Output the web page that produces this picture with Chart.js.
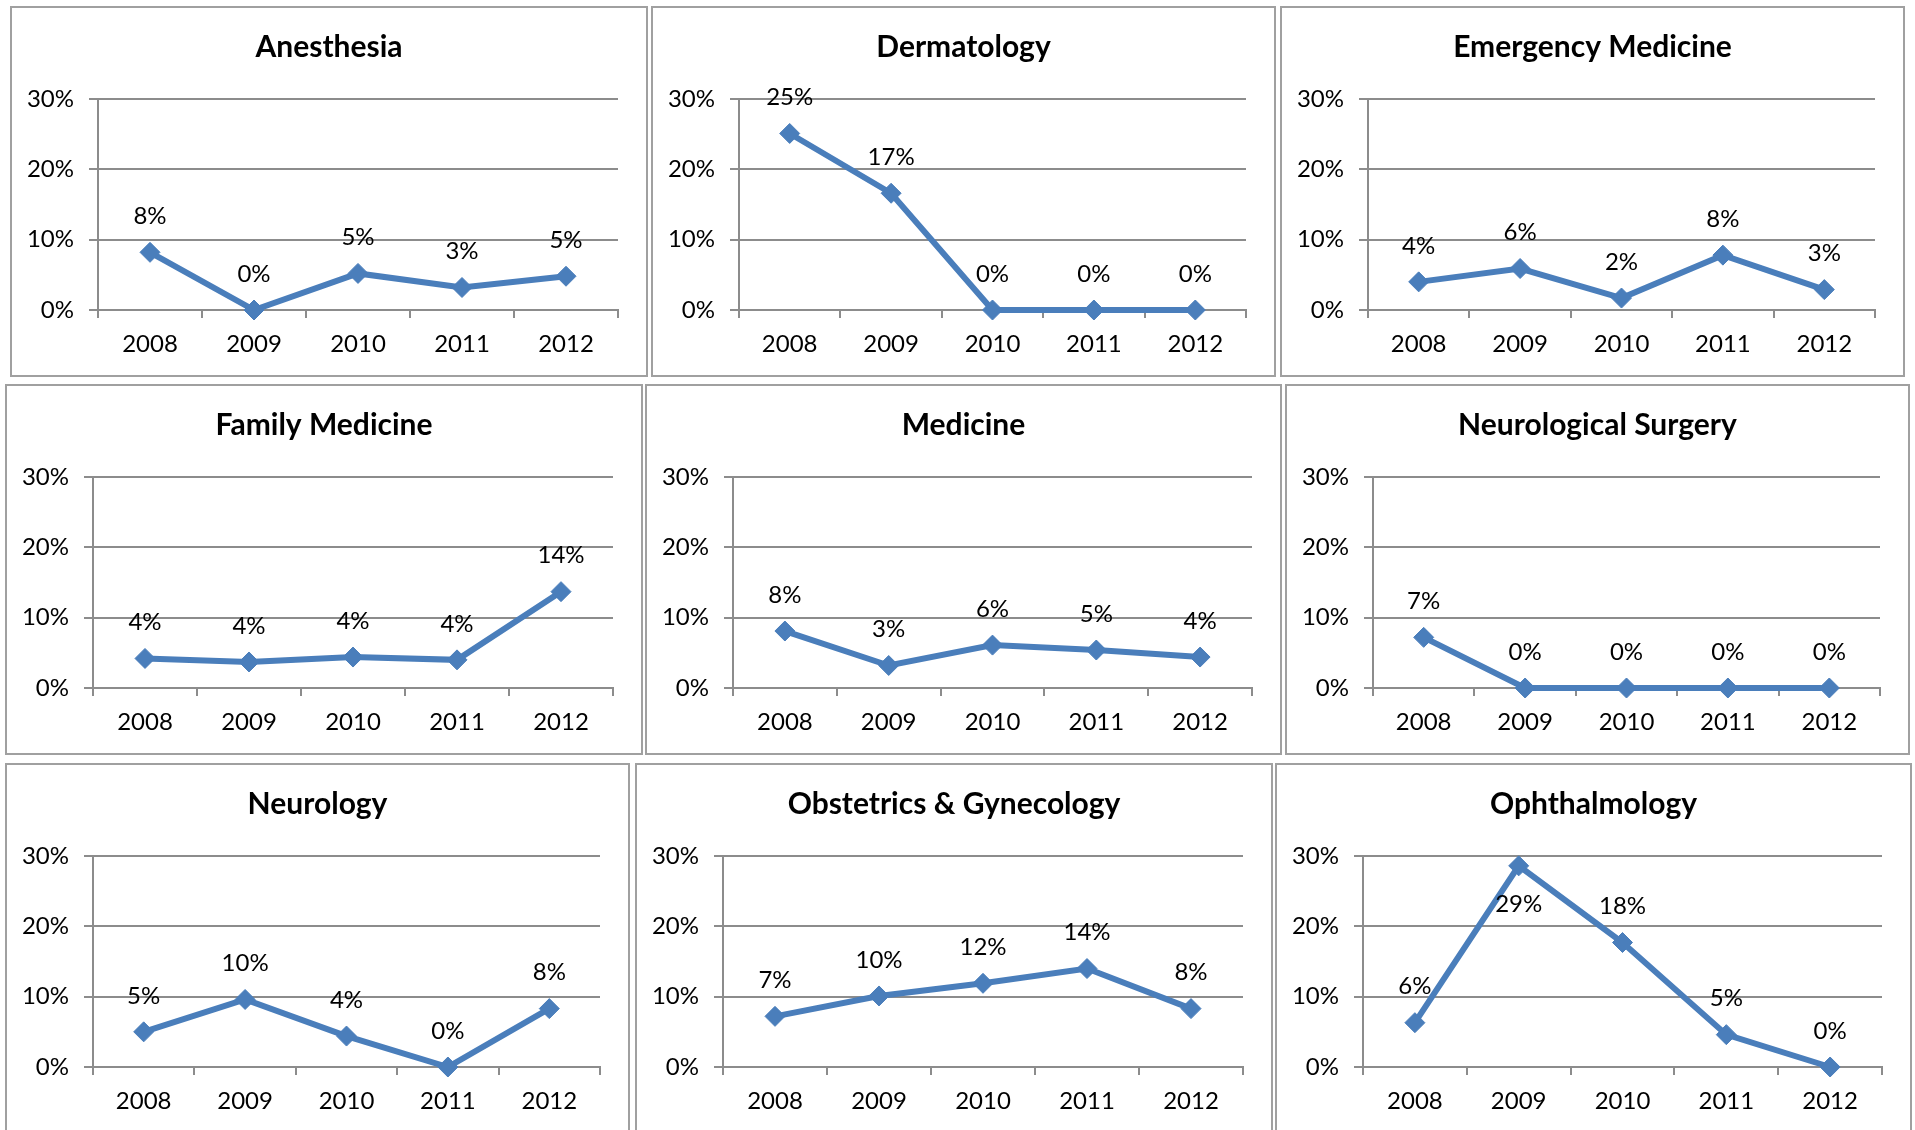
<!DOCTYPE html>
<html>
<head>
<meta charset="utf-8">
<title>Residency rates by specialty</title>
<script src="https://cdn.jsdelivr.net/npm/chart.js@4"></script>
<style>
	body {
		margin: 0;
		background: #fff;
		width: 1915px;
		height: 1130px;
		overflow: hidden;
		position: relative;
	}
	.panel {
		position: absolute;
		box-sizing: border-box;
		border: 2px solid #a0a0a0;
		background: #fff;
	}
	.panel canvas {
		display: block;
	}
</style>
</head>
<body>
<div id="grid"></div>
<script>
// categories
const years = ['2008', '2009', '2010', '2011', '2012'];

// series values, in percent
const anesthesia = [8.2, 0, 5.2, 3.2, 4.8];
const dermatology = [25.1, 16.6, 0, 0, 0];
const emergency_medicine = [4.0, 5.9, 1.7, 7.8, 2.9];
const family_medicine = [4.2, 3.7, 4.4, 4.0, 13.7];
const medicine = [8.1, 3.2, 6.1, 5.4, 4.4];
const neurological_surgery = [7.2, 0, 0, 0, 0];
const neurology = [5.0, 9.6, 4.4, 0, 8.3];
const obstetrics_gynecology = [7.2, 10.1, 11.9, 14.0, 8.3];
const ophthalmology = [6.3, 28.6, 17.7, 4.6, 0];

// y axis ticks
const y_ticks = [0, 10, 20, 30];

const titles = [
	'Anesthesia', 'Dermatology', 'Emergency Medicine',
	'Family Medicine', 'Medicine', 'Neurological Surgery',
	'Neurology', 'Obstetrics & Gynecology', 'Ophthalmology',
];
const series = [
	anesthesia, dermatology, emergency_medicine,
	family_medicine, medicine, neurological_surgery,
	neurology, obstetrics_gynecology, ophthalmology,
];

// panel boxes: left, top, width
const boxes = [
	[10, 6, 638], [651, 6, 625], [1280, 6, 625],
	[5, 384, 638], [645, 384, 637], [1285, 384, 625],
	[5, 763, 625], [635, 763, 638], [1275, 763, 637],
];
const panel_height = 371;

const line_colour = '#4a7ebb';
const grid_colour = '#8c8c8c';

Chart.defaults.font.family = 'Lato';
Chart.defaults.color = '#000';

// value labels above each point (below if there is no room)
const point_labels = {
	id: 'point_labels',
	afterDatasetsDraw(chart) {
		const ctx = chart.ctx;
		const meta = chart.getDatasetMeta(0);
		const values = chart.data.datasets[0].data;
		ctx.save();
		ctx.font = '24px Lato';
		ctx.fillStyle = '#000';
		ctx.textAlign = 'center';
		ctx.textBaseline = 'middle';
		meta.data.forEach((pt, i) => {
			let y = pt.y - 36;
			if (y < chart.chartArea.top - 10) {
				y = pt.y + 38;
			}
			ctx.fillText(Math.round(values[i]) + '%', pt.x, y);
		});
		ctx.restore();
	},
};

function makeOptions(title) {
	return {
		responsive: true,
		maintainAspectRatio: false,
		animation: false,
		layout: { padding: 0 },
		scales: {
			x: {
				type: 'category',
				offset: true,
				grid: {
					offset: true,
					drawOnChartArea: false,
					tickLength: 8,
					color: grid_colour,
					lineWidth: 2,
				},
				border: { display: true, color: grid_colour, width: 2 },
				ticks: {
					padding: 12,
					font: { size: 24 },
					maxRotation: 0,
				},
				afterFit: function(scale) {
					scale.height = 65;
				},
			},
			y: {
				min: 0,
				max: 30,
				afterBuildTicks: function(scale) {
					scale.ticks = y_ticks.map(v => ({ value: v }));
				},
				grid: {
					tickLength: 9,
					color: grid_colour,
					lineWidth: 2,
				},
				border: { display: true, color: grid_colour, width: 2 },
				ticks: {
					padding: 15,
					font: { size: 24 },
					callback: (v) => v + '%',
				},
				afterFit: function(scale) {
					scale.width = 86;
				},
			},
			spacer: {
				position: 'right',
				display: true,
				grid: { display: false, drawTicks: false },
				border: { display: false },
				ticks: { display: false },
				afterFit: function(scale) {
					scale.width = 28;
				},
			},
		},
		plugins: {
			legend: { display: false },
			tooltip: { enabled: false },
			title: {
				display: true,
				text: title,
				color: '#000',
				font: { size: 30, weight: 'bold', lineHeight: 1.2 },
				padding: { top: 21, bottom: 34 },
			},
		},
	};
}

const grid = document.getElementById('grid');

titles.forEach((title, i) => {
	const box = boxes[i];
	const panel = document.createElement('div');
	panel.className = 'panel';
	panel.style.left = box[0] + 'px';
	panel.style.top = box[1] + 'px';
	panel.style.width = box[2] + 'px';
	panel.style.height = panel_height + 'px';
	const holder = document.createElement('div');
	holder.style.position = 'relative';
	holder.style.width = '100%';
	holder.style.height = '100%';
	const canvas = document.createElement('canvas');
	holder.appendChild(canvas);
	panel.appendChild(holder);
	grid.appendChild(panel);

	new Chart(canvas.getContext('2d'), {
		type: 'line',
		data: {
			labels: years,
			datasets: [{
				data: series[i],
				clip: false,
				borderColor: line_colour,
				backgroundColor: line_colour,
				borderWidth: 6,
				tension: 0,
				pointStyle: 'rectRot',
				pointRadius: 10,
				pointBackgroundColor: line_colour,
				pointBorderColor: line_colour,
				pointBorderWidth: 1,
			}],
		},
		options: makeOptions(title),
		plugins: [point_labels],
	});
});
</script>
</body>
</html>
